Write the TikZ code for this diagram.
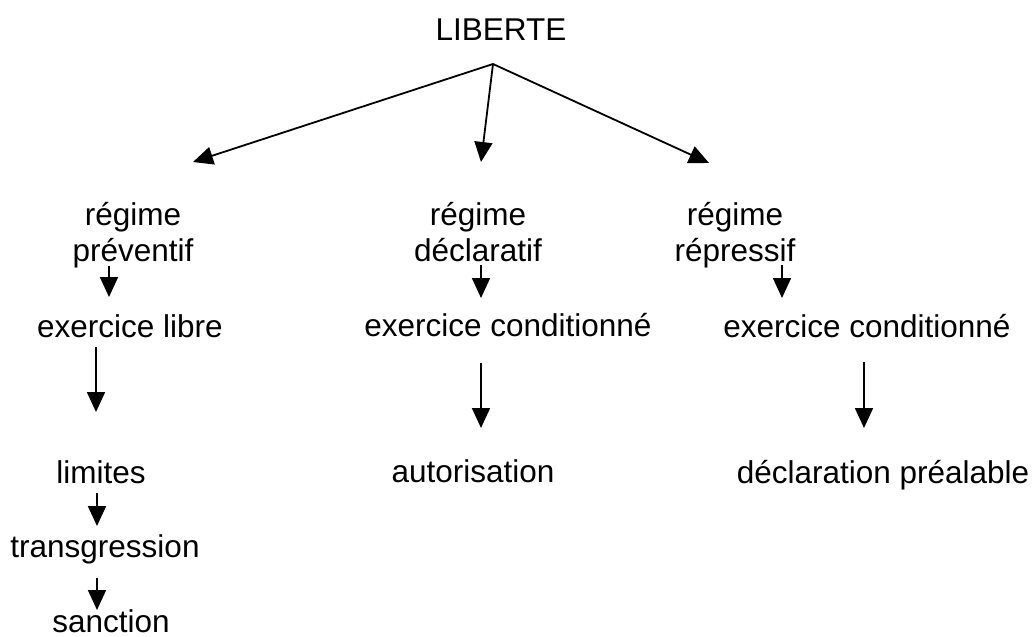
\documentclass[tikz,border=0pt]{standalone}
\usepackage{fontspec}
\setmainfont{Liberation Sans}
\usetikzlibrary{arrows.meta}
\tikzset{
  lbl/.style={inner sep=0pt, outer sep=0pt, anchor=base, align=center, font=\fontsize{31.5}{36}\selectfont},
  arr/.style={line width=1.8pt, -{Triangle[length=20pt,width=18pt]}}
}
\begin{document}
\begin{tikzpicture}[x=1pt,y=-1pt]
\useasboundingbox (0,0) rectangle (1034,637);
% nodes
\node[lbl] (lib) at (501,40) {LIBERTE};
\node[lbl] (reg1) at (133,261) {régime\\préventif};
\node[lbl] (reg2) at (478,261) {régime\\déclaratif};
\node[lbl] (reg3) at (735,261) {régime\\répressif};
\node[lbl] (ex1) at (130,337) {exercice libre};
\node[lbl] (ex2) at (508,336) {exercice conditionné};
\node[lbl] (ex3) at (867,337) {exercice conditionné};
\node[lbl] (lim) at (101,483) {limites};
\node[lbl] (aut) at (473,482) {autorisation};
\node[lbl] (decl) at (883,483) {déclaration préalable};
\node[lbl] (trans) at (105,557) {transgression};
\node[lbl] (sanc) at (111,632) {sanction};
% connector points
\coordinate (apex) at (493,64);
\coordinate (t1) at (193,162);
\coordinate (t2) at (481,162);
\coordinate (t3) at (709,163);
\coordinate (s1a) at (109,266); \coordinate (s1b) at (109,297);
\coordinate (s2a) at (481,265); \coordinate (s2b) at (481,298);
\coordinate (s3a) at (782,265); \coordinate (s3b) at (782,298);
\coordinate (l1a) at (96,347);  \coordinate (l1b) at (96,412);
\coordinate (l2a) at (481,363); \coordinate (l2b) at (481,428);
\coordinate (l3a) at (864,362); \coordinate (l3b) at (864,428);
\coordinate (m1a) at (97,493);  \coordinate (m1b) at (97,526);
\coordinate (m2a) at (97,578);  \coordinate (m2b) at (97,610);
% connectors
\draw[arr] (apex) -- (t1);
\draw[arr] (apex) -- (t2);
\draw[arr] (apex) -- (t3);
\draw[arr] (s1a) -- (s1b);
\draw[arr] (s2a) -- (s2b);
\draw[arr] (s3a) -- (s3b);
\draw[arr] (l1a) -- (l1b);
\draw[arr] (l2a) -- (l2b);
\draw[arr] (l3a) -- (l3b);
\draw[arr] (m1a) -- (m1b);
\draw[arr] (m2a) -- (m2b);
\end{tikzpicture}
\end{document}
